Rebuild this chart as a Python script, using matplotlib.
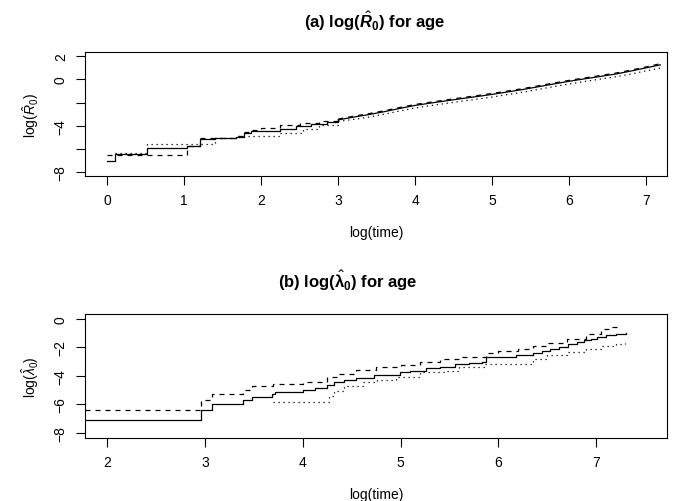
import matplotlib
matplotlib.use("Agg")
import matplotlib.pyplot as plt

plt.rcParams['font.family'] = ['Liberation Sans', 'DejaVu Sans']
plt.rcParams['mathtext.fontset'] = 'custom'
plt.rcParams['mathtext.rm'] = 'Liberation Sans'
plt.rcParams['mathtext.it'] = 'Liberation Sans:italic'
plt.rcParams['mathtext.bf'] = 'Liberation Sans:bold'
plt.rcParams['mathtext.bfit'] = 'Liberation Sans:italic:bold'

# panel (a): log(R0) vs log(time)
a_x_solid = [0.00, 0.11, 0.515, 1.035, 1.21, 1.40, 1.68, 1.78, 1.87, 2.25, 2.45, 2.65, 2.85, 3.0,
             3.2, 3.4, 3.6, 3.8, 4.0, 4.2, 4.4, 4.6, 4.8, 5.0, 5.2, 5.4, 5.6, 5.8, 6.0, 6.2, 6.4,
             6.6, 6.8, 7.0, 7.18]
a_y_solid = [-7.05, -6.39, -5.90, -5.73, -5.16, -5.08, -4.92, -4.58, -4.42, -4.25, -4.05, -3.88,
             -3.65, -3.49, -3.25, -3.03, -2.78, -2.50, -2.24, -2.04, -1.85, -1.66, -1.48, -1.29,
             -1.08, -0.87, -0.63, -0.39, -0.16, 0.05, 0.25, 0.46, 0.72, 1.00, 1.25]

a_x_dash = [0.00, 1.035, 1.21, 1.40, 1.68, 1.78, 1.87, 2.0, 2.25, 2.5, 2.75, 3.0,
            3.2, 3.4, 3.6, 3.8, 4.0, 4.2, 4.4, 4.6, 4.8, 5.0, 5.2, 5.4, 5.6, 5.8, 6.0, 6.2, 6.4,
            6.6, 6.8, 7.0, 7.2]
a_y_dash = [-6.48, -5.73, -5.05, -5.05, -4.88, -4.50, -4.35, -4.15, -3.95, -3.74, -3.60, -3.42,
            -3.17, -2.95, -2.70, -2.42, -2.16, -1.96, -1.77, -1.58, -1.40, -1.21, -1.00, -0.79,
            -0.55, -0.31, -0.08, 0.13, 0.33, 0.54, 0.80, 1.08, 1.38]

a_x_dot = [0.11, 0.515, 1.40, 1.68, 2.25, 2.55, 2.75, 3.0,
           3.2, 3.4, 3.6, 3.8, 4.0, 4.2, 4.4, 4.6, 4.8, 5.0, 5.2, 5.4, 5.6, 5.8, 6.0, 6.2, 6.4,
           6.6, 6.8, 7.0, 7.18]
a_y_dot = [-6.30, -5.53, -5.08, -4.84, -4.62, -4.30, -3.95, -3.62,
           -3.45, -3.25, -3.00, -2.72, -2.46, -2.26, -2.07, -1.88, -1.70, -1.52, -1.31, -1.10,
           -0.86, -0.62, -0.39, -0.18, 0.02, 0.22, 0.46, 0.74, 0.97]

# panel (b): log(lambda0) vs log(time)
b_x_solid = [1.775, 2.96, 3.07, 3.39, 3.48, 3.69, 3.72, 4.0, 4.13, 4.25, 4.32, 4.42, 4.55, 4.73,
             4.99, 5.1, 5.26, 5.4, 5.56, 5.7, 5.83, 5.87, 6.0, 6.18, 6.35, 6.45, 6.53, 6.62,
             6.71, 6.8, 6.88, 6.95, 7.01, 7.1, 7.2, 7.30]
b_y_solid = [-7.09, -6.39, -5.96, -5.66, -5.45, -5.26, -5.12, -4.96, -4.84, -4.63, -4.45, -4.30,
             -4.14, -3.94, -3.76, -3.65, -3.48, -3.35, -3.18, -3.08, -3.02, -2.71, -2.65, -2.55,
             -2.41, -2.25, -2.10, -1.95, -1.80, -1.65, -1.52, -1.40, -1.25, -1.15, -1.05, -0.98]

b_x_dash = [1.775, 2.96, 3.07, 3.39, 3.48, 3.70, 4.0, 4.25, 4.35, 4.55, 4.75, 5.0, 5.2, 5.4,
            5.6, 5.87, 6.0, 6.2, 6.35, 6.5, 6.7, 6.9, 7.05, 7.15, 7.25]
b_y_dash = [-6.38, -5.68, -5.29, -4.98, -4.74, -4.60, -4.40, -4.10, -3.87, -3.58, -3.41, -3.25,
            -3.06, -2.85, -2.71, -2.37, -2.25, -2.09, -1.90, -1.67, -1.39, -1.04, -0.74, -0.56,
            -0.48]

b_x_dot = [3.70, 4.27, 4.32, 4.42, 4.62, 4.76, 4.95, 5.2, 5.45, 5.6, 5.85, 6.35, 6.5, 6.7,
           6.9, 7.05, 7.2, 7.29]
b_y_dot = [-5.85, -5.38, -5.03, -4.73, -4.44, -4.28, -4.06, -3.76, -3.64, -3.41, -3.18, -2.83,
           -2.55, -2.32, -2.09, -1.90, -1.80, -1.72]

a_yticks = [-8, -6, -4, -2, 0, 2]
a_yticklabels = ['\u22128', '', '\u22124', '', '0', '2']
b_yticks = [-8, -6, -4, -2, 0]
b_yticklabels = ['\u22128', '\u22126', '\u22124', '\u22122', '0']

fig = plt.figure(figsize=(6.74, 5.02), dpi=100)
ax1 = fig.add_axes([0.126, 0.647, 0.864, 0.247])
ax2 = fig.add_axes([0.126, 0.1255, 0.864, 0.2475])

lw = 0.9
styles = [dict(), dict(dashes=(4, 4)), dict(dashes=(1, 3))]

# panel (a): coarse steps early on, the many tiny steps after log(time)=3 drawn as a line
for xs, ys, st in zip((a_x_solid, a_x_dash, a_x_dot), (a_y_solid, a_y_dash, a_y_dot), styles):
    k = xs.index(3.0)
    ax1.plot(xs[:k + 1], ys[:k + 1], color='black', lw=lw, drawstyle='steps-post', **st)
    ax1.plot(xs[k:], ys[k:], color='black', lw=lw, **st)

for xs, ys, st in zip((b_x_solid, b_x_dash, b_x_dot), (b_y_solid, b_y_dash, b_y_dot), styles):
    ax2.plot(xs, ys, color='black', lw=lw, drawstyle='steps-post', **st)

for ax in (ax1, ax2):
    for s in ax.spines.values():
        s.set_linewidth(0.8)
    ax.tick_params(length=6.3, width=0.8, labelsize=10, pad=6)
    ax.set_xlabel('log(time)', fontsize=10, labelpad=13)

ax1.set_xlim(-0.286, 7.27)
ax1.set_ylim(-8.34, 2.34)
ax1.set_xticks(range(0, 8))
ax1.set_yticks(a_yticks)
ax1.set_yticklabels(a_yticklabels, rotation=90, va='center')
ax1.set_ylabel(r'log($\hat{R}_0$)', fontsize=10, labelpad=9)

ax2.set_xlim(1.775, 7.726)
ax2.set_ylim(-8.35, 0.35)
ax2.set_xticks(range(2, 8))
ax2.set_yticks(b_yticks)
ax2.set_yticklabels(b_yticklabels, rotation=90, va='center')
ax2.set_ylabel(r'log($\hat{\lambda}_0$)', fontsize=10, labelpad=9)

fig.text(375 / 674, 1 - 21 / 502, r'(a) log($\hat{\mathbfit{R}}_\mathbf{0}$) for age',
         ha='center', va='center', fontsize=12, fontweight='bold')
fig.text(348 / 674, 1 - 281 / 502, r'(b) log($\hat{\mathbf{\lambda}}_\mathbf{0}$) for age',
         ha='center', va='center', fontsize=12, fontweight='bold')

fig.savefig('out.png', dpi=100)
